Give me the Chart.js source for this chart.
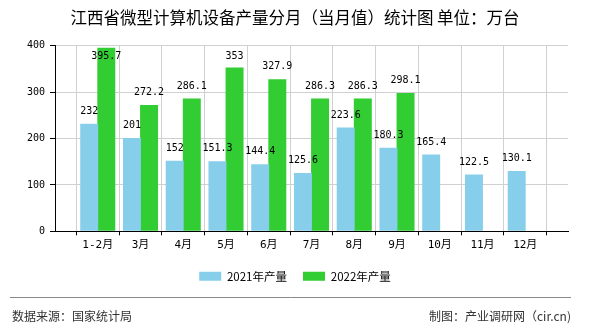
<!DOCTYPE html>
<html>
<head>
<meta charset="utf-8">
<script src="https://cdn.jsdelivr.net/npm/chart.js@4.4.0/dist/chart.umd.min.js"></script>
<style>
  body { margin: 0; background: #fff; }
  #wrap { width: 590px; height: 330px; }
</style>
</head>
<body>
<div id="wrap"><canvas id="chart" width="590" height="330"></canvas></div>
<script>
// 数据（万台）
const months = ['1-2月', '3月', '4月', '5月', '6月', '7月', '8月', '9月', '10月', '11月', '12月'];
const prod2021 = [232, 201, 152, 151.3, 144.4, 125.6, 223.6, 180.3, 165.4, 122.5, 130.1];
const prod2022 = [395.7, 272.2, 286.1, 353, 327.9, 286.3, 286.3, 298.1, null, null, null];
const seriesNames = ['2021年产量', '2022年产量'];
const yTicks = [0, 100, 200, 300, 400];

const titleText = '江西省微型计算机设备产量分月（当月值）统计图 单位：万台';
const sourceText = '数据来源：国家统计局';
const makerText = '制图：产业调研网（cir.cn)';

// empty slot at each end so the axis has a full category of room on both sides
const pad = arr => [null, ...arr, null];

const monoFont = '"DejaVu Sans Mono", "Noto Sans CJK SC", monospace';
const cjkFont = '"Noto Sans CJK SC", "Noto Sans", sans-serif';

// value labels above the bars
const barLabels = {
  id: 'barLabels',
  afterDatasetsDraw(chart) {
    const ctx = chart.ctx;
    const top = chart.chartArea.top;
    ctx.save();
    ctx.font = '10px ' + monoFont;
    ctx.fillStyle = '#000';
    ctx.textAlign = 'center';
    ctx.textBaseline = 'middle';
    chart.data.datasets.forEach((ds, i) => {
      chart.getDatasetMeta(i).data.forEach((bar, j) => {
        const v = ds.data[j];
        if (v == null) return;
        const y = Math.max(bar.y - 12.5, top + 10.5);
        ctx.fillText(String(v), bar.x, y);
      });
    });
    ctx.restore();
  }
};

// footer line + source / maker text
const footer = {
  id: 'footer',
  afterDraw(chart) {
    const ctx = chart.ctx;
    ctx.save();
    ctx.strokeStyle = '#888';
    ctx.lineWidth = 1;
    ctx.beginPath();
    ctx.moveTo(10, 297.5);
    ctx.lineTo(571, 297.5);
    ctx.stroke();
    ctx.font = '12px ' + cjkFont;
    ctx.fillStyle = '#333';
    ctx.textBaseline = 'middle';
    ctx.textAlign = 'left';
    ctx.fillText(sourceText, 12, 316);
    ctx.textAlign = 'right';
    ctx.fillText(makerText, 571, 316);
    ctx.restore();
  }
};

new Chart(document.getElementById('chart'), {
  type: 'bar',
  data: {
    labels: pad(months).map(m => m || ''),
    datasets: [
      {
        label: seriesNames[0],
        data: pad(prod2021),
        backgroundColor: '#87CEEB',
        categoryPercentage: 0.8,
        barPercentage: 1.05
      },
      {
        label: seriesNames[1],
        data: pad(prod2022),
        backgroundColor: '#32CD32',
        categoryPercentage: 0.8,
        barPercentage: 1.05
      }
    ]
  },
  options: {
    responsive: false,
    animation: false,
    layout: { padding: { left: 22, right: 22, top: 0, bottom: 38 } },
    scales: {
      x: {
        offset: false,
        grid: { color: '#d0d0d0', tickColor: '#000', tickLength: 4 },
        border: { color: '#000', width: 1 },
        ticks: {
          autoSkip: false,
          maxRotation: 0,
          padding: 3,
          color: '#000',
          font: { family: monoFont, size: 11 }
        }
      },
      y: {
        min: yTicks[0],
        max: yTicks[yTicks.length - 1],
        afterFit(scale) { scale.width = 33; },
        grid: { color: '#d0d0d0', tickColor: '#000', tickLength: 5 },
        border: { color: '#000', width: 1 },
        ticks: {
          stepSize: yTicks[1] - yTicks[0],
          padding: 5,
          color: '#000',
          font: { family: monoFont, size: 10 }
        }
      }
    },
    plugins: {
      title: {
        display: true,
        text: titleText,
        color: '#000',
        font: { family: cjkFont, size: 16.5, weight: 'normal' },
        padding: { top: 8, bottom: 18 }
      },
      legend: {
        position: 'bottom',
        labels: {
          boxWidth: 22,
          boxHeight: 9,
          padding: 16,
          color: '#000',
          font: { family: cjkFont, size: 11.5 }
        }
      },
      tooltip: { enabled: false }
    }
  },
  plugins: [barLabels, footer]
});
</script>
</body>
</html>
